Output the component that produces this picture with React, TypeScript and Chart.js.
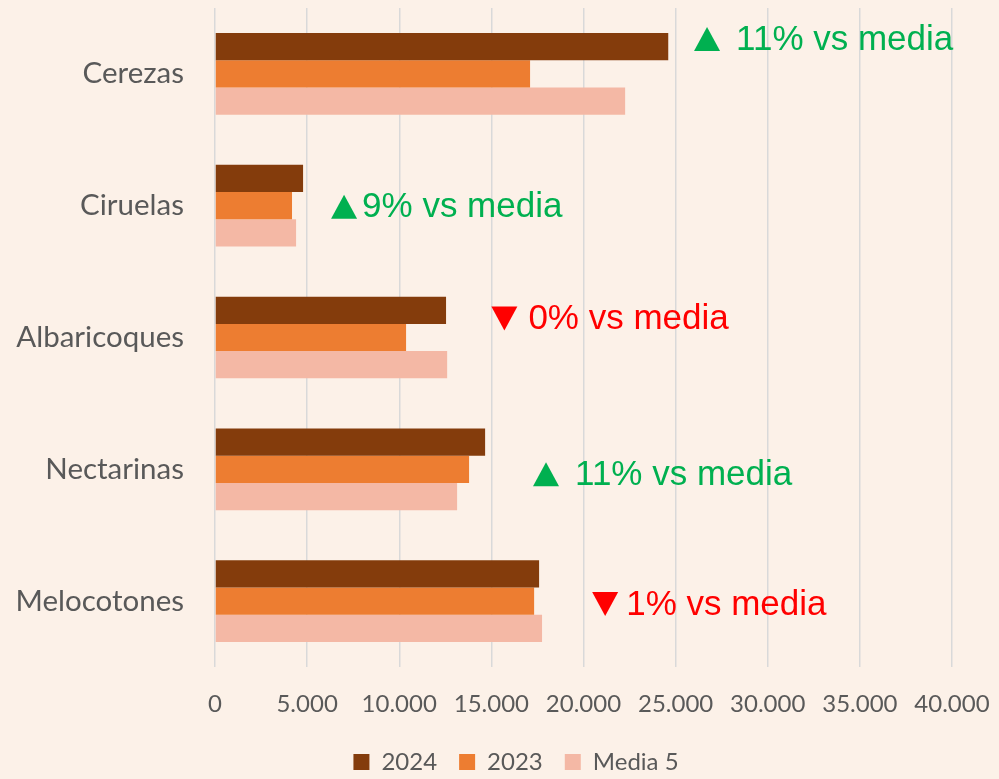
import React, { useEffect, useRef } from "react";
import { Chart, registerables } from "chart.js";

Chart.register(...registerables);

const categories = ["Cerezas", "Ciruelas", "Albaricoques", "Nectarinas", "Melocotones"];
const values2024 = [24600, 4780, 12540, 14660, 17590];
const values2023 = [17100, 4180, 10370, 13790, 17320];
const valuesMedia5 = [22260, 4400, 12600, 13140, 17750];
const seriesNames = ["2024", "2023", "Media 5"];

const annotationTexts = ["11% vs media", "9% vs media", "0% vs media", "11% vs media", "1% vs media"];
const annotationUp = [true, true, false, true, false];
const annotationAt = [26000, 6300, 15000, 17260, 20470];
const annotationDy = [-35, 1, -19, 5, 3];
const annotationGap = [16, 5, 11, 16, 8];

const BG = "#FCF1E8";
const GRAY = "#595959";

const annotationPlugin = {
  id: "vsMedia",
  afterDatasetsDraw(chart: any) {
    const { ctx, scales } = chart;
    const xs = scales.x;
    const ys = scales.y;
    ctx.save();
    ctx.font = "35px 'Liberation Sans', Arial, sans-serif";
    ctx.textBaseline = "middle";
    ctx.textAlign = "left";
    annotationTexts.forEach((t, i) => {
      const color = annotationUp[i] ? "#00B050" : "#FF0000";
      const x = xs.getPixelForValue(annotationAt[i]);
      const y = ys.getPixelForValue(i) + annotationDy[i];
      const w = 26;
      const h = 24;
      ctx.fillStyle = color;
      ctx.beginPath();
      if (annotationUp[i]) {
        ctx.moveTo(x, y + h / 2);
        ctx.lineTo(x + w, y + h / 2);
        ctx.lineTo(x + w / 2, y - h / 2);
      } else {
        ctx.moveTo(x, y - h / 2);
        ctx.lineTo(x + w, y - h / 2);
        ctx.lineTo(x + w / 2, y + h / 2);
      }
      ctx.closePath();
      ctx.fill();
      ctx.fillText(t, x + w + annotationGap[i], y + 1);
    });
    ctx.restore();
  },
};

const bgPlugin = {
  id: "bg",
  beforeDraw(chart: any) {
    const { ctx, width, height } = chart;
    ctx.save();
    ctx.fillStyle = BG;
    ctx.fillRect(0, 0, width, height);
    ctx.restore();
  },
};

export default function App() {
  const ref = useRef<HTMLCanvasElement>(null);
  useEffect(() => {
    document.body.style.margin = "0";
    document.body.style.background = BG;
    const chart = new Chart(ref.current as HTMLCanvasElement, {
      type: "bar",
      data: {
        labels: categories,
        datasets: [
          { label: seriesNames[0], data: values2024, backgroundColor: "#843C0C" },
          { label: seriesNames[1], data: values2023, backgroundColor: "#ED7D31" },
          { label: seriesNames[2], data: valuesMedia5, backgroundColor: "#F4B8A5" },
        ],
      },
      options: {
        indexAxis: "y",
        responsive: false,
        animation: false,
        datasets: { bar: { barPercentage: 1, categoryPercentage: 0.62 } },
        layout: { padding: { top: 8, right: -33, left: 0, bottom: -5 } },
        scales: {
          x: {
            min: 0,
            max: 40000,
            ticks: {
              stepSize: 5000,
              padding: 23,
              color: GRAY,
              font: { family: "Lato", size: 24 },
              callback: (v: any) => Number(v).toLocaleString("de-DE"),
            },
            grid: { color: "#D9D9D9", lineWidth: 1.5, drawTicks: false },
            border: { display: false },
            afterFit: (s: any) => {
              s.height = 61;
              s.paddingLeft = 0;
              s.paddingRight = 47;
            },
          },
          y: {
            ticks: { padding: 31, color: GRAY, font: { family: "Lato", size: 29.5 } },
            grid: { display: false, drawTicks: false },
            border: { display: false },
            afterFit: (s: any) => {
              s.width = 215;
              s.paddingTop = 0;
              s.paddingBottom = 0;
            },
          },
        },
        plugins: {
          legend: {
            position: "bottom",
            labels: {
              boxWidth: 16,
              boxHeight: 16,
              padding: 22,
              color: GRAY,
              font: { family: "Lato", size: 24 },
            },
          },
          tooltip: { enabled: false },
        },
      },
      plugins: [bgPlugin, annotationPlugin],
    });
    return () => chart.destroy();
  }, []);
  return <canvas ref={ref} width={999} height={779} style={{ display: "block" }} />;
}
